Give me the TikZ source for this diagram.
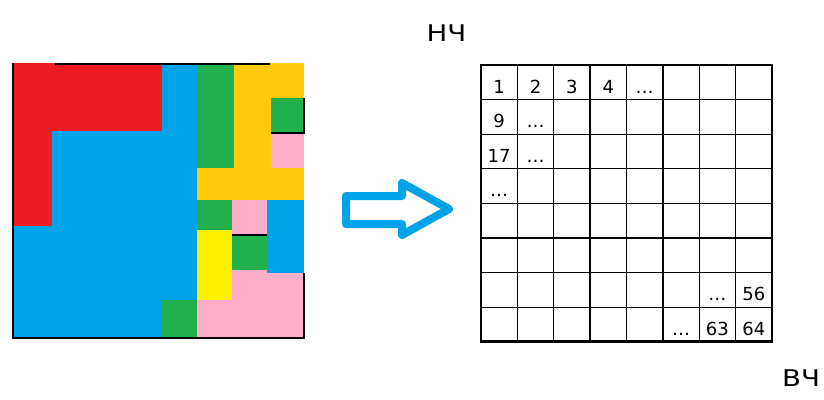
\documentclass[tikz,border=0pt]{standalone}
\usepackage{fontspec}
\setmainfont{DejaVu Sans}
\usepackage{xcolor}
\usepackage{tikz}

\definecolor{paintred}{HTML}{ED1C24}
\definecolor{paintblue}{HTML}{00A2E8}
\definecolor{paintgreen}{HTML}{22B14C}
\definecolor{paintorange}{HTML}{FFC90E}
\definecolor{paintyellow}{HTML}{FFF200}
\definecolor{paintpink}{HTML}{FFAEC9}

\begin{document}
\begin{tikzpicture}[x=1pt, y=-1pt,
        gridline/.style={line width=1.3pt},
        blockedge/.style={line width=2pt},
        freqlabel/.style={xscale=1.2, font=\fontsize{23}{27}\selectfont}]
        \tikzstyle{every node}=[font=\fontsize{18}{21}\selectfont, inner sep=0pt]
        \useasboundingbox (0,0) rectangle (824,399);

        % Image split into blocks
        \begin{scope}
            \fill[paintblue] (13,63) rectangle (197,338);
            \fill[paintred] (13,63) rectangle (162,131);
            \fill[paintred] (13,131) rectangle (52,226);
            \fill[paintgreen] (162,300) rectangle (197,338);

            \fill[paintgreen] (197,63) rectangle (234,168);
            \fill[paintorange] (234,63) rectangle (304,168);
            \fill[paintorange] (197,168) rectangle (304,200);
            \fill[paintgreen] (271,98) rectangle (304,133);
            \fill[paintpink] (271,133) rectangle (304,168);

            \fill[paintpink] (197,200) rectangle (304,338);
            \fill[paintgreen] (197,200) rectangle (232,230);
            \fill[paintyellow] (197,230) rectangle (232,300);
            \fill[paintgreen] (232,235) rectangle (267,270);
            \fill[paintblue] (267,200) rectangle (304,273);

            % black edges
            \draw[blockedge] (13,63) -- (13,338) -- (304,338) -- (304,273);
            \draw[blockedge] (55,64) -- (270,64);
            \draw[blockedge] (304,98) -- (304,133) -- (271,133);
            \draw[line width=1.5pt] (232,235) -- (267,235);
        \end{scope}

        % Arrow
        \draw[paintblue, line width=8pt, line join=round, fill=white]
            (346,196) -- (402,196) -- (402,183) -- (449,209) -- (402,235) -- (402,224) -- (346,224) -- cycle;

        % 8x8 table
        \begin{scope}[shift={(481,65)}, x=36.375pt, y=-34.6pt]
            \foreach \i in {1,...,7} {
                \draw[gridline] (\i,0) -- (\i,8);
                \draw[gridline] (0,\i) -- (8,\i);
            }
            \draw[line width=2.8pt] (0,0) rectangle (8,8);

            \foreach \r/\c/\t in {1/1/1, 1/2/2, 1/3/3, 1/4/4, 1/5/\dots,
                                  2/1/9, 2/2/\dots, 3/1/17, 3/2/\dots, 4/1/\dots,
                                  7/7/\dots, 7/8/56, 8/6/\dots, 8/7/63, 8/8/64}
                \node[anchor=base] (c\r-\c) at (\c-0.5, \r-0.19) {\t};
        \end{scope}

        % Frequency labels
        \node[freqlabel] (low) at (446.5,33) {НЧ};
        \node[freqlabel] (high) at (801,378) {ВЧ};
\end{tikzpicture}
\end{document}
